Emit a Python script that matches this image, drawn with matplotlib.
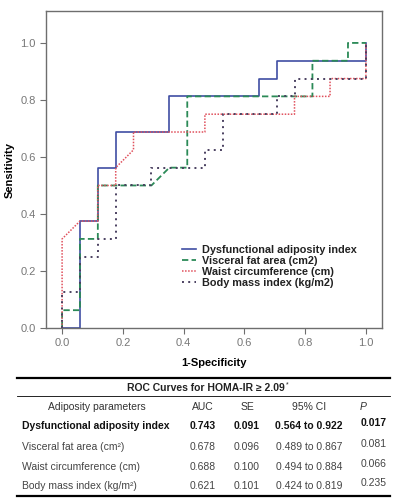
import matplotlib
matplotlib.use("Agg")
import matplotlib.pyplot as plt
from matplotlib.lines import Line2D

plt.rcParams['font.family'] = ['Liberation Sans', 'DejaVu Sans']

# ROC steps (1-specificity, sensitivity)
dai_x = [0, 0.0588, 0.0588, 0.1176, 0.1176, 0.1765, 0.1765, 0.353, 0.353, 0.647, 0.647, 0.706, 0.706, 1.0, 1.0]
dai_y = [0, 0, 0.375, 0.375, 0.5625, 0.5625, 0.6875, 0.6875, 0.8125, 0.8125, 0.875, 0.875, 0.9375, 0.9375, 1.0]

vfa_x = [0, 0, 0.0588, 0.0588, 0.1176, 0.1176, 0.294, 0.353, 0.412, 0.412, 0.824, 0.824, 0.941, 0.941, 1.0]
vfa_y = [0, 0.0625, 0.0625, 0.3125, 0.3125, 0.5, 0.5, 0.5625, 0.5625, 0.8125, 0.8125, 0.9375, 0.9375, 1.0, 1.0]

wc_x = [0, 0, 0.0588, 0.1176, 0.1176, 0.1765, 0.1765, 0.235, 0.235, 0.47, 0.47, 0.765, 0.765, 0.882, 0.882, 1.0, 1.0]
wc_y = [0, 0.3125, 0.375, 0.375, 0.5, 0.5, 0.5625, 0.625, 0.6875, 0.6875, 0.75, 0.75, 0.8125, 0.8125, 0.875, 0.875, 1.0]

bmi_x = [0, 0, 0.0588, 0.0588, 0.1176, 0.1176, 0.1765, 0.1765, 0.294, 0.294, 0.47, 0.47, 0.529, 0.529,
         0.706, 0.706, 0.765, 0.765, 1.0, 1.0]
bmi_y = [0, 0.125, 0.125, 0.25, 0.25, 0.3125, 0.3125, 0.5, 0.5, 0.5625, 0.5625, 0.625, 0.625, 0.75,
         0.75, 0.8125, 0.8125, 0.875, 0.875, 1.0]

legend_labels = ["Dysfunctional adiposity index", "Visceral fat area (cm2)",
                 "Waist circumference (cm)", "Body mass index (kg/m2)"]
ticks = [0.0, 0.2, 0.4, 0.6, 0.8, 1.0]

# table
table_title = "ROC Curves for HOMA-IR \u2265 2.09"
col_headers = ["Adiposity parameters", "AUC", "SE", "95% CI", "P"]
row_names = ["Dysfunctional adiposity index", "Visceral fat area (cm\u00b2)",
             "Waist circumference (cm)", "Body mass index (kg/m\u00b2)"]
auc = ["0.743", "0.678", "0.688", "0.621"]
se = ["0.091", "0.096", "0.100", "0.101"]
ci = ["0.564 to 0.922", "0.489 to 0.867", "0.494 to 0.884", "0.424 to 0.819"]
pvals = ["0.017", "0.081", "0.066", "0.235"]

W, H = 401, 500
fig = plt.figure(figsize=(W / 100, H / 100), dpi=100)


def fx(px):
    return px / W


def fy(py):
    return 1 - py / H


ax = fig.add_axes([fx(46), fy(328), fx(382) - fx(46), fy(11) - fy(328)])
ax.plot(dai_x, dai_y, color="#3f4ea3", lw=1.2)
ax.plot(vfa_x, vfa_y, color="#2b8a57", lw=1.3, dashes=(3.5, 1.8))
ax.plot(wc_x, wc_y, color="#e0505c", lw=1.1, dashes=(1, 1))
ax.plot(bmi_x, bmi_y, color="#4a4060", lw=1.4, dashes=(1, 2.2))

ax.set_xlim(-0.053, 1.053)
ax.set_ylim(0, 1.112)
ax.set_xticks(ticks)
ax.set_yticks(ticks)
ax.set_xticklabels([f"{t:.1f}" for t in ticks])
ax.set_yticklabels([f"{t:.1f}" for t in ticks])
ax.tick_params(colors="#6e6e6e", labelcolor="#777777", labelsize=8, length=4, width=0.8)
for sp in ax.spines.values():
    sp.set_color("#6e6e6e")
    sp.set_linewidth(1.0)
ax.set_xlabel("1-Specificity", fontsize=8, fontweight="bold", labelpad=7)
ax.set_ylabel("Sensitivity", fontsize=8, fontweight="bold", labelpad=4)

handles = [Line2D([], [], color="#3f4ea3", lw=1.2),
           Line2D([], [], color="#2b8a57", lw=1.3, dashes=(3.5, 1.8)),
           Line2D([], [], color="#e0505c", lw=1.1, dashes=(1, 1)),
           Line2D([], [], color="#4a4060", lw=1.4, dashes=(1, 2.2))]
leg = ax.legend(handles, legend_labels, loc="upper left", bbox_to_anchor=(fx(182), fy(245)),
                bbox_transform=fig.transFigure, frameon=False, borderpad=0, borderaxespad=0,
                handlelength=1.3, handletextpad=0.5, labelspacing=0.08,
                prop={"size": 7.8, "weight": "bold"})
for t in leg.get_texts():
    t.set_color("#222222")

# table lines
fig.add_artist(Line2D([fx(17), fx(390)], [fy(378), fy(378)], color="black", lw=1.6))
fig.add_artist(Line2D([fx(17), fx(390)], [fy(396), fy(396)], color="black", lw=0.6))
fig.add_artist(Line2D([fx(17), fx(390)], [fy(496), fy(496)], color="black", lw=1.6))

title_txt = fig.text(fx(206), fy(388), table_title, ha="center", va="center", fontsize=7.5,
                     fontweight="bold", color="#222222")
fig.canvas.draw()
tb = title_txt.get_window_extent()
fig.text(tb.x1 / W + 0.002, fy(385), "*", ha="left", va="center", fontsize=5, color="#222222")

col_x = [97, 203, 247, 309, 363]
for i, h in enumerate(col_headers):
    fig.text(fx(col_x[i]), fy(407), h, ha="center", va="center", fontsize=7.5,
             color="#333333", style="italic" if h == "P" else "normal")

row_y = [426, 447, 467, 486]
for i in range(len(row_names)):
    w = "bold" if i == 0 else "normal"
    c = "#111111" if i == 0 else "#444444"
    y = fy(row_y[i])
    fig.text(fx(22), y, row_names[i], ha="left", va="center", fontsize=7.5, fontweight=w, color=c)
    fig.text(fx(203), y, auc[i], ha="center", va="center", fontsize=7.5, fontweight=w, color=c)
    fig.text(fx(247), y, se[i], ha="center", va="center", fontsize=7.5, fontweight=w, color=c)
    fig.text(fx(309), y, ci[i], ha="center", va="center", fontsize=7.5, fontweight=w, color=c)
    fig.text(fx(374), fy(row_y[i] - 3), pvals[i], ha="center", va="center", fontsize=7.5,
             fontweight=w, color=c)

fig.savefig("out.png", dpi=100)
